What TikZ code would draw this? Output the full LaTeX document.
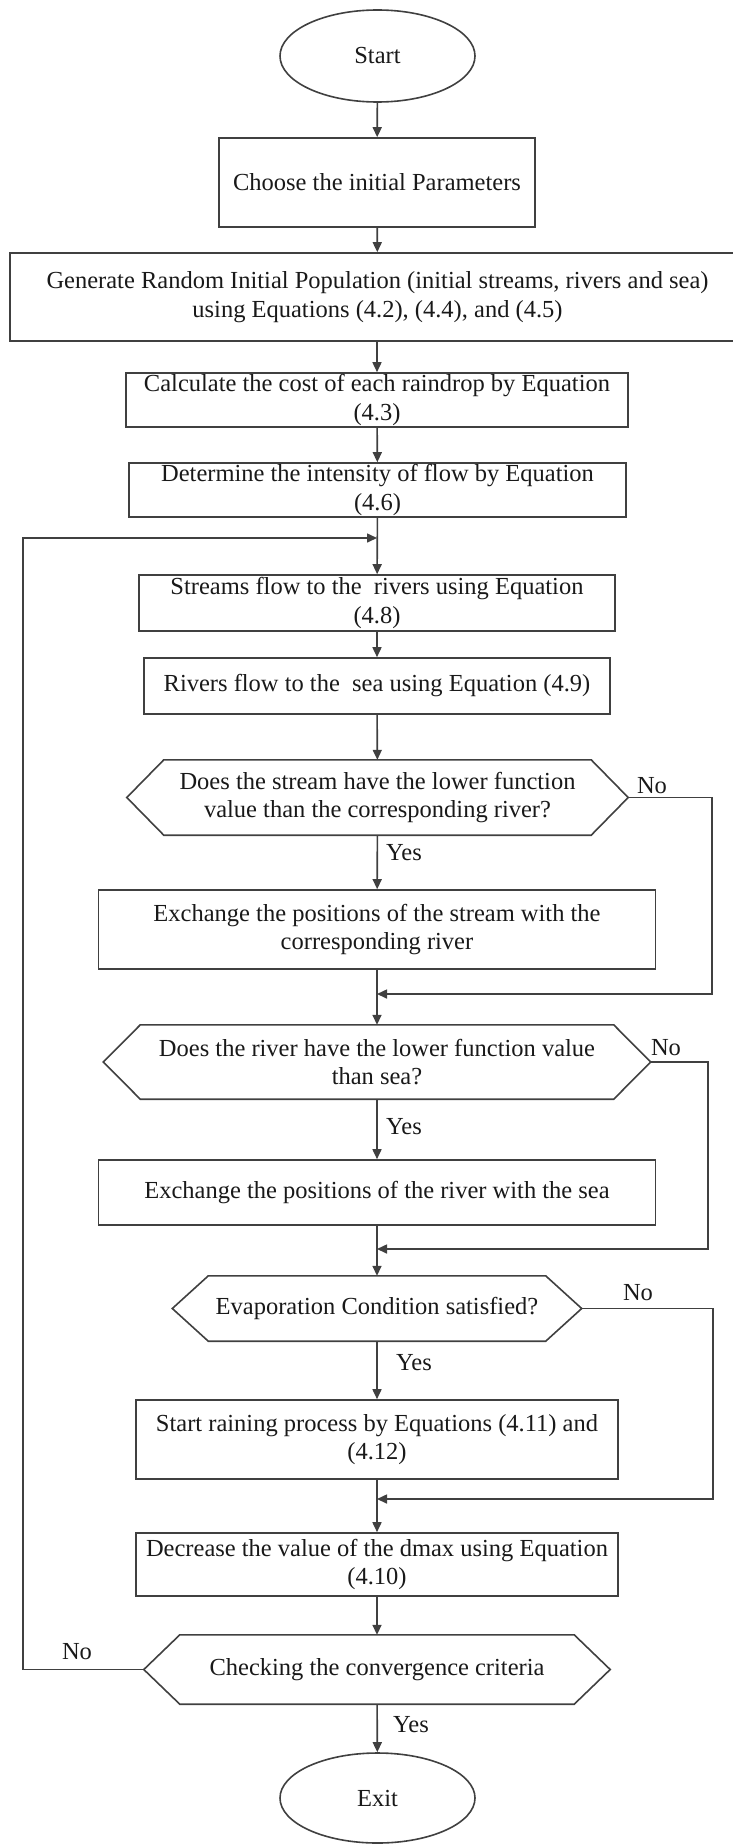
\documentclass[tikz,border=0pt]{standalone}
\usepackage{fontspec}
\setmainfont{Liberation Serif}
\usetikzlibrary{arrows.meta,shapes.geometric}
\definecolor{ln}{HTML}{404040}
\begin{document}
\begin{tikzpicture}[x=1pt,y=-1pt,
  every node/.style={font=\fontsize{24.5}{28.5}\selectfont, text=black!90},
  box/.style={draw=ln, line width=1.6pt, rectangle, align=center, inner sep=0pt},
  hexnode/.style={rectangle, align=center, inner sep=0pt},
  oval/.style={draw=ln, line width=1.6pt, ellipse, inner sep=0pt},
  arr/.style={draw=ln, line width=1.6pt, -{Triangle[length=10pt,width=9pt]}},
  ln/.style={draw=ln, line width=1.6pt},
  lbl/.style={inner sep=0pt}]
\useasboundingbox (0,0) rectangle (733,1844);
\begin{scope}
\clip (0,0) rectangle (733,1844);
% nodes
\node[oval, minimum width=195, minimum height=92] (start) at (377.5,56) {Start};
\node[box, minimum width=316, minimum height=89] (choose) at (377,182.5) {Choose the initial Parameters};
\node[box, minimum width=735, minimum height=88] (gen) at (377.5,297) {Generate Random Initial Population (initial streams, rivers and sea)\\using Equations (4.2), (4.4), and (4.5)};
\node[box, minimum width=502, minimum height=54] (calc) at (377,400) {Calculate the cost of each raindrop by Equation\\(4.3)};
\node[box, minimum width=497, minimum height=54] (det) at (377.5,490) {Determine the intensity of flow by Equation\\(4.6)};
\node[box, minimum width=476, minimum height=56] (streams) at (377,603) {Streams flow to the\ \ rivers using Equation\\(4.8)};
\node[box, minimum width=466, minimum height=56] (rivers) at (377,686) {Rivers flow to the\ \ sea using Equation (4.9)};
\node[hexnode, minimum width=427, minimum height=75] (h1) at (377.5,797.5) {Does the stream have the lower function\\value than the corresponding river?};
\node[box, minimum width=557, minimum height=79] (ex1) at (377,929.5) {Exchange the positions of the stream with the\\corresponding river};
\node[hexnode, minimum width=473, minimum height=74] (h2) at (377,1062) {Does the river have the lower function value\\than sea?};
\node[box, minimum width=557, minimum height=65] (ex2) at (377,1192.5) {Exchange the positions of the river with the sea};
\node[hexnode, minimum width=337, minimum height=65] (h3) at (377,1308.5) {Evaporation Condition satisfied?};
\node[box, minimum width=482, minimum height=79] (rain) at (377,1439.5) {Start raining process by Equations (4.11) and\\(4.12)};
\node[box, minimum width=482, minimum height=63] (dec) at (377,1564.5) {Decrease the value of the dmax using Equation\\(4.10)};
\node[hexnode, minimum width=394, minimum height=69] (h4) at (377,1669.5) {Checking the convergence criteria};
\node[oval, minimum width=195, minimum height=90] (exit) at (377.5,1798) {Exit};
% hexagon outlines
\foreach \h/\e in {h1/37, h2/37, h3/36, h4/36}{
  \draw[ln] (\h.north west) -- (\h.north east) -- ([xshift=\e pt]\h.east) -- (\h.south east)
    -- (\h.south west) -- ([xshift=-\e pt]\h.west) -- cycle;
}
\coordinate (h1r) at ([xshift=37pt]h1.east);
\coordinate (h2r) at ([xshift=37pt]h2.east);
\coordinate (h3r) at ([xshift=36pt]h3.east);
\coordinate (h4l) at ([xshift=-36pt]h4.west);
% merge points and corners
\coordinate (m0) at (377,538);
\coordinate (m1) at (377,994);
\coordinate (m2) at (377,1249);
\coordinate (m3) at (377,1499);
\coordinate (c1a) at (712,797.5);
\coordinate (c1b) at (712,994);
\coordinate (c2a) at (708,1062);
\coordinate (c2b) at (708,1249);
\coordinate (c3a) at (713,1308.5);
\coordinate (c3b) at (713,1499);
\coordinate (c4a) at (23,1669.5);
\coordinate (c4b) at (23,538);
% main flow
\draw[arr] (start) -- (choose);
\draw[arr] (choose) -- (gen);
\draw[arr] (gen.south -| calc.north) -- (calc);
\draw[arr] (calc) -- (det);
\draw[arr] (det) -- (streams);
\draw[arr] (streams) -- (rivers);
\draw[arr] (rivers) -- (h1);
\draw[arr] (h1) -- (ex1);
\draw[arr] (ex1) -- (h2);
\draw[arr] (h2) -- (ex2);
\draw[arr] (ex2) -- (h3);
\draw[arr] (h3) -- (rain);
\draw[arr] (rain) -- (dec);
\draw[arr] (dec) -- (h4);
\draw[arr] (h4) -- (exit);
% No branches
\draw[arr] (h1r) -- (c1a) -- (c1b) -- (m1);
\draw[arr] (h2r) -- (c2a) -- (c2b) -- (m2);
\draw[arr] (h3r) -- (c3a) -- (c3b) -- (m3);
\draw[arr] (h4l) -- (c4a) -- (c4b) -- (m0);
% labels
\node[lbl] (y1) at (404,853) {Yes};
\node[lbl] (n1) at (652,786) {No};
\node[lbl] (y2) at (404,1127) {Yes};
\node[lbl] (n2) at (666,1048) {No};
\node[lbl] (n3) at (638,1293) {No};
\node[lbl] (y3) at (414,1363) {Yes};
\node[lbl] (n4) at (77,1652) {No};
\node[lbl] (y4) at (411,1725) {Yes};
\end{scope}
\end{tikzpicture}
\end{document}
